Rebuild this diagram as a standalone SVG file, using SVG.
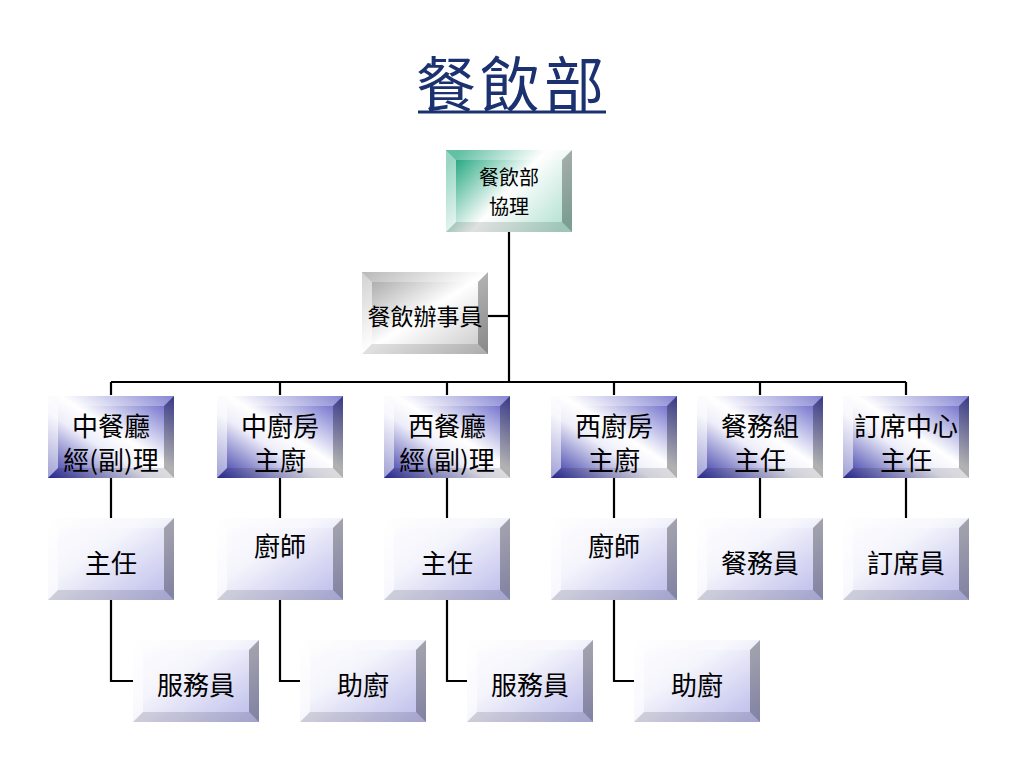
<svg xmlns="http://www.w3.org/2000/svg" xmlns:xlink="http://www.w3.org/1999/xlink" width="1024" height="768" viewBox="0 0 1024 768">
<defs>
<linearGradient id="gTeal" x1="0" y1="0.2" x2="1" y2="0.8">
<stop offset="0" stop-color="#1fa57c"/>
<stop offset="0.5" stop-color="#ffffff"/>
<stop offset="1" stop-color="#b4e2d2"/>
</linearGradient>
<linearGradient id="gGray" x1="0" y1="0" x2="1" y2="1">
<stop offset="0" stop-color="#9a9a9a"/>
<stop offset="0.5" stop-color="#ffffff"/>
<stop offset="1" stop-color="#c4c4c4"/>
</linearGradient>
<linearGradient id="gBlue" x1="1" y1="0" x2="0" y2="1">
<stop offset="0" stop-color="#5050c0"/>
<stop offset="0.45" stop-color="#ffffff"/>
<stop offset="0.6" stop-color="#eeeefa"/>
<stop offset="1" stop-color="#2a2aa0"/>
</linearGradient>
<linearGradient id="gLav" x1="0" y1="0" x2="1" y2="1">
<stop offset="0" stop-color="#ffffff"/>
<stop offset="0.4" stop-color="#f4f4fc"/>
<stop offset="1" stop-color="#b8b8ea"/>
</linearGradient>
<g id="bevel">
<polygon class="bt" points="0,0 126,0 116,10 10,10"/>
<polygon class="bl" points="0,0 10,10 10,72 0,82"/>
<polygon class="br" points="126,0 126,82 116,72 116,10"/>
<polygon class="bb" points="0,82 126,82 116,72 10,72"/>
</g>
</defs>
<style>
.bt{fill:#ffffff;fill-opacity:0.3}
.bl{fill:#ffffff;fill-opacity:0.55}
.br{fill:#000000;fill-opacity:0.3}
.bb{fill:#000000;fill-opacity:0.12}
.teal{fill:url(#gTeal)}
.gray{fill:url(#gGray)}
.blue{fill:url(#gBlue)}
.lav{fill:url(#gLav)}
text{font-family:"Noto Sans CJK TC","Noto Sans CJK SC",sans-serif;fill:#000;text-anchor:middle;dominant-baseline:central}
.t20{font-size:20px}
.t23{font-size:23px}
.t26{font-size:26px}
.conn{fill:none;stroke:#000;stroke-width:2.2}
</style>
<rect width="1024" height="768" fill="#ffffff"/>
<g id="title">
<text x="512" y="80" style="font-size:60px;fill:#1c3170;letter-spacing:4px">餐飲部</text>
<line x1="418" y1="112" x2="606" y2="112" stroke="#1c3170" stroke-width="3"/>
</g>
<g id="connectors" class="conn">
<path d="M509 232V382"/>
<path d="M488 316H509"/>
<path d="M111 382H906"/>
<path d="M111 382V395M280 382V395M447 382V395M614 382V395M760 382V395M906 382V395"/>
<path d="M111 478V518M280 478V518M447 478V518M614 478V518M760 478V518M906 478V518"/>
<path d="M111 600V681H133M280 600V681H300M447 600V681H467M614 600V681H634"/>
</g>
<g id="n-manager" transform="translate(446,150)">
<rect class="teal" width="126" height="82"/><use xlink:href="#bevel"/>
<text class="t20" x="63" y="26">餐飲部</text><text class="t20" x="63" y="55">協理</text>
</g>
<g id="n-clerk" transform="translate(362,272)">
<rect class="gray" width="126" height="82"/><use xlink:href="#bevel"/>
<text class="t23" x="63" y="43">餐飲辦事員</text>
</g>
<g id="n-cn-rest" transform="translate(48,396)">
<rect class="blue" width="126" height="82"/><use xlink:href="#bevel"/>
<text class="t26" x="63" y="28.5">中餐廳</text><text class="t26" x="63" y="62">經(副)理</text>
</g>
<g id="n-cn-kitchen" transform="translate(217,396)">
<rect class="blue" width="126" height="82"/><use xlink:href="#bevel"/>
<text class="t26" x="63" y="28.5">中廚房</text><text class="t26" x="63" y="62">主廚</text>
</g>
<g id="n-w-rest" transform="translate(384,396)">
<rect class="blue" width="126" height="82"/><use xlink:href="#bevel"/>
<text class="t26" x="63" y="28.5">西餐廳</text><text class="t26" x="63" y="62">經(副)理</text>
</g>
<g id="n-w-kitchen" transform="translate(551,396)">
<rect class="blue" width="126" height="82"/><use xlink:href="#bevel"/>
<text class="t26" x="63" y="28.5">西廚房</text><text class="t26" x="63" y="62">主廚</text>
</g>
<g id="n-steward" transform="translate(697,396)">
<rect class="blue" width="126" height="82"/><use xlink:href="#bevel"/>
<text class="t26" x="63" y="28.5">餐務組</text><text class="t26" x="63" y="62">主任</text>
</g>
<g id="n-booking" transform="translate(843,396)">
<rect class="blue" width="126" height="82"/><use xlink:href="#bevel"/>
<text class="t26" x="63" y="28.5">訂席中心</text><text class="t26" x="63" y="62">主任</text>
</g>
<g id="n-cn-super" transform="translate(48,518)">
<rect class="lav" width="126" height="82"/><use xlink:href="#bevel"/>
<text class="t26" x="63" y="43">主任</text>
</g>
<g id="n-cn-chef" transform="translate(217,518)">
<rect class="lav" width="126" height="82"/><use xlink:href="#bevel"/>
<text class="t26" x="63" y="26">廚師</text>
</g>
<g id="n-w-super" transform="translate(384,518)">
<rect class="lav" width="126" height="82"/><use xlink:href="#bevel"/>
<text class="t26" x="63" y="43">主任</text>
</g>
<g id="n-w-chef" transform="translate(551,518)">
<rect class="lav" width="126" height="82"/><use xlink:href="#bevel"/>
<text class="t26" x="63" y="26">廚師</text>
</g>
<g id="n-steward-staff" transform="translate(697,518)">
<rect class="lav" width="126" height="82"/><use xlink:href="#bevel"/>
<text class="t26" x="63" y="43">餐務員</text>
</g>
<g id="n-booking-staff" transform="translate(843,518)">
<rect class="lav" width="126" height="82"/><use xlink:href="#bevel"/>
<text class="t26" x="63" y="43">訂席員</text>
</g>
<g id="n-cn-waiter" transform="translate(133,640)">
<rect class="lav" width="126" height="82"/><use xlink:href="#bevel"/>
<text class="t26" x="63" y="43">服務員</text>
</g>
<g id="n-cn-assist" transform="translate(300,640)">
<rect class="lav" width="126" height="82"/><use xlink:href="#bevel"/>
<text class="t26" x="63" y="43">助廚</text>
</g>
<g id="n-w-waiter" transform="translate(467,640)">
<rect class="lav" width="126" height="82"/><use xlink:href="#bevel"/>
<text class="t26" x="63" y="43">服務員</text>
</g>
<g id="n-w-assist" transform="translate(634,640)">
<rect class="lav" width="126" height="82"/><use xlink:href="#bevel"/>
<text class="t26" x="63" y="43">助廚</text>
</g>
</svg>
